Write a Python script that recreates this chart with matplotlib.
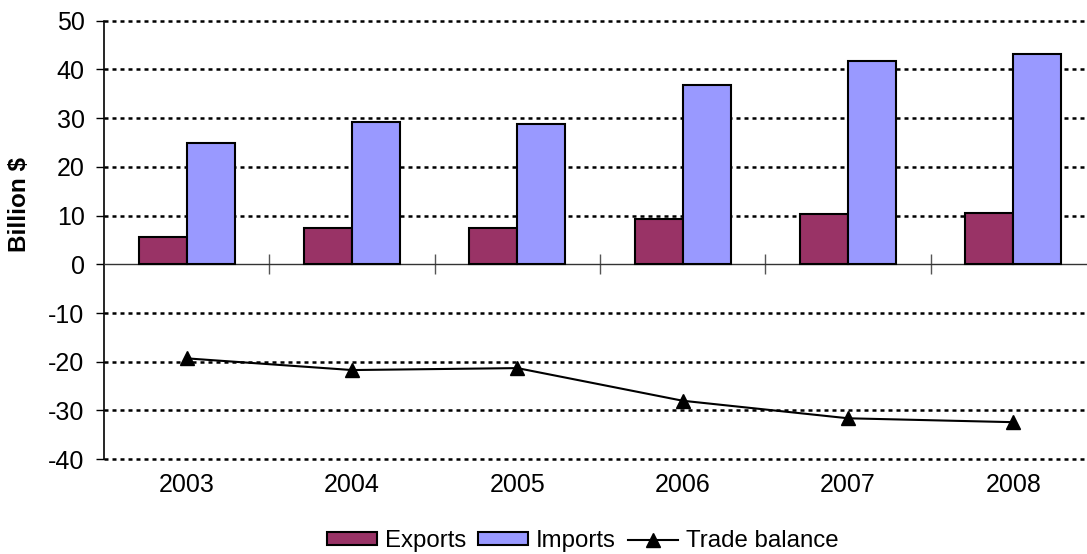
import matplotlib.pyplot as plt
import numpy as np

# years and values (billion $)
years = ["2003", "2004", "2005", "2006", "2007", "2008"]
exports = [5.7, 7.5, 7.4, 9.3, 10.3, 10.6]
imports = [25.0, 29.2, 28.8, 36.9, 41.8, 43.1]
trade_balance = [-19.3, -21.7, -21.3, -28.0, -31.6, -32.4]
y_ticks = [50, 40, 30, 20, 10, 0, -10, -20, -30, -40]

plt.rcParams['font.family'] = ['Liberation Sans', 'DejaVu Sans']
plt.rcParams['axes.unicode_minus'] = False

fig = plt.figure(figsize=(10.87, 5.54), dpi=100)
ax = fig.add_axes([0.0957, 0.1711, 0.9126, 0.7915])

x = np.arange(len(years))
w = 0.29

# dotted gridlines, the zero line is drawn by the axis itself
for t in y_ticks:
    if t != 0:
        ax.axhline(t, color='black', lw=1.8, ls=(0, (1.6, 1.6)), zorder=1,
                   clip_on=False)

b1 = ax.bar(x - w / 2, exports, w, color='#993366', edgecolor='black', lw=1.5,
            zorder=3, label='Exports')
b2 = ax.bar(x + w / 2, imports, w, color='#9999FF', edgecolor='black', lw=1.5,
            zorder=3, label='Imports')
l1, = ax.plot(x, trade_balance, color='black', lw=1.5, marker='^', ms=10,
              zorder=4, label='Trade balance')

ax.set_xlim(-0.5, len(years) - 0.5)
ax.set_ylim(-40, 50)
ax.set_yticks(y_ticks)
ax.tick_params(axis='y', labelsize=18, length=6, width=1, direction='out', pad=8)
ax.set_ylabel('Billion $', fontsize=17.5, fontweight='bold')
ax.yaxis.set_label_coords(-0.074, 0.58)

# category axis sits on zero, with ticks between years
ax.spines['bottom'].set_position(('data', 0))
ax.spines['bottom'].set_color('#333333')
ax.spines['bottom'].set_linewidth(1)
ax.set_xticks([])
ax.set_xticks(x[:-1] + 0.5, minor=True)
ax.tick_params(axis='x', which='minor', length=15, width=1, color='#555555',
               direction='inout')
ax.spines['right'].set_visible(False)
ax.spines['top'].set_visible(False)
ax.spines['left'].set_linewidth(1.2)

# year labels at the bottom of the plot
sec = ax.secondary_xaxis(0)
sec.set_xticks(x)
sec.set_xticklabels(years)
sec.tick_params(length=0, labelsize=18, pad=10)
sec.spines['bottom'].set_visible(False)

fig.legend(handles=[b1, b2, l1], loc='center', bbox_to_anchor=(0.536, 0.0235),
           ncol=3, frameon=False, fontsize=17.3, handlelength=2.08,
           handleheight=0.42, handletextpad=0.33, columnspacing=0.5,
           borderpad=0)

fig.savefig('out.png', dpi=100)
